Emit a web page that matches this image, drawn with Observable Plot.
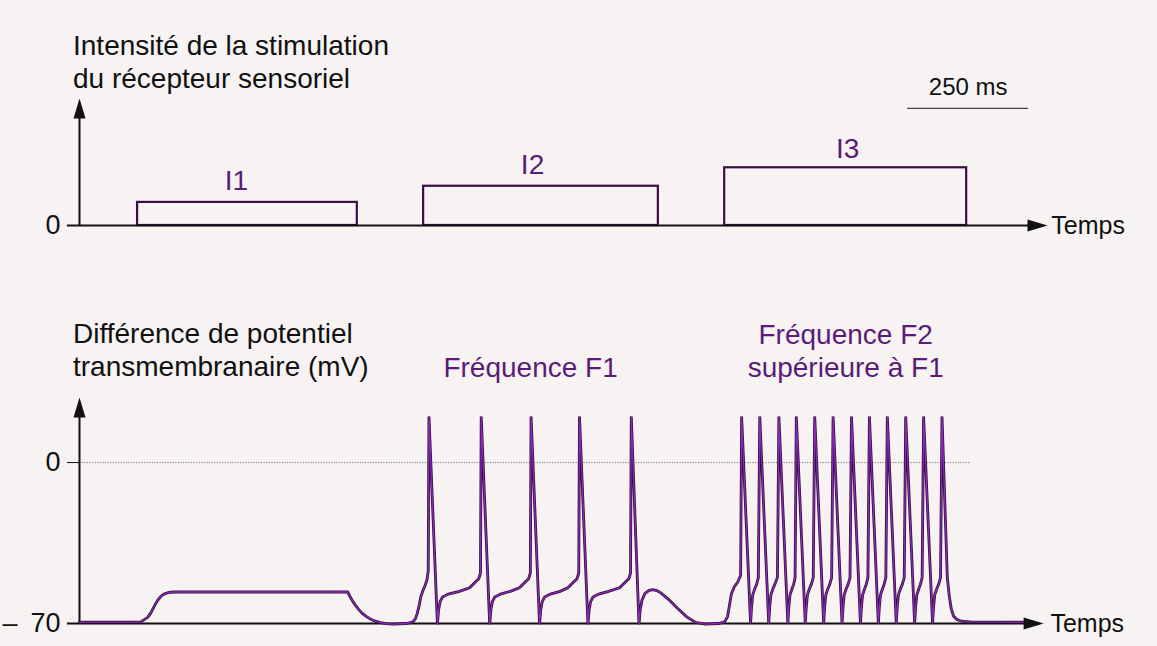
<!DOCTYPE html>
<html><head><meta charset="utf-8">
<script src="https://cdn.jsdelivr.net/npm/d3@7"></script>
<script src="https://cdn.jsdelivr.net/npm/@observablehq/plot@0.6"></script>
<style>
body{margin:0;background:#f6f3f2;}
#wrap{position:relative;width:1157px;height:646px;overflow:hidden;font-family:"Liberation Sans",Arial,sans-serif;color:#111;}
.title{position:absolute;left:73px;font-size:28px;line-height:33.5px;white-space:nowrap;}
.panel{position:absolute;left:0;}
</style></head><body>
<div id="wrap">
 <div class="panel" id="top" style="top:0"></div>
 <div class="panel" id="bottom" style="top:300px"></div>
 <div class="title" style="top:28.6px">Intensité de la stimulation<br>du récepteur sensoriel</div>
 <div class="title" style="top:316.6px">Différence de potentiel<br>transmembranaire (mV)</div>
</div>
<script>
// ---- data ----
const pulseNames = ["I1", "I2", "I3"];
const pulseStart = [120, 711, 1333];      // ms
const pulseEnd = [574, 1196, 1833];       // ms
const pulseIntensity = [1.0, 1.7, 2.5];   // arbitrary units

const traceTime = [
  0,126,141,147,152,157,162,167,173,180,188,198,
  554,557,560,565,570,577,585,593,601,611,622,634,647,674,688,694,698,702,705,709,714,718,720.5,
  722,739.5,742,745,750,762,785,806,818,825,828.5,
  830,847.5,850,853,858,870,890,909,921,928,931.5,
  933,950.5,953,956,961,973,993,1009,1021,1028,1031.5,
  1033,1050.5,1053,1056,1061,1073,1093,1116,1128,1135,1138.5,
  1140,1156,1158.5,1162,1168,1176,1184,1193,1203,1217,1236,1254,1273,1293,1320,1333,1339,1343,1347,1353,1360,1366,
  1368,1386.5,1388.5,1391,1395,1399,1402.5,
  1405.5,1424,1426,1428.5,1432.5,1436.5,1442,
  1445,1463.5,1465.5,1468,1472,1475.5,1478.5,
  1481,1499.5,1501.5,1504,1508,1512,1516,
  1519,1537.5,1539.5,1542,1546,1550,1554,
  1557,1575.5,1577.5,1580,1584,1588,1592,
  1595,1613.5,1615.5,1618,1622,1625.5,1629,
  1632,1650.5,1652.5,1655,1659,1662.5,1666,
  1669,1687.5,1689.5,1692,1696,1700,1704,
  1707,1725.5,1727.5,1730,1734,1737.5,1741,
  1744,1762.5,1764.5,1767,1771,1775,1779,
  1782,1793,1797,1801,1806,1813,1822,1840,1950
];
const traceMv = [
  -69.4,-69.4,-67.3,-65.5,-63.5,-61.5,-59.8,-58.5,-57.4,-56.8,-56.4,-56.3,
  -56.3,-57.5,-58.7,-60.5,-62,-64,-65.7,-67,-68,-69,-69.6,-70.1,-70.3,-70,-69.4,-68,-65.5,-62,-58.5,-56,-53.5,-51,-47,
  20,-70.3,-64,-60.5,-58.5,-57.2,-56,-54.5,-52,-50.5,-48,
  20,-70.3,-64,-60.5,-58.5,-57.2,-56,-54.5,-52,-50.5,-48,
  20,-70.3,-64,-60.5,-58.5,-57.2,-56,-54.5,-52,-50.5,-48,
  20,-70.3,-64,-60.5,-58.5,-57.2,-56,-54.5,-52,-50.5,-48,
  20,-70.3,-64,-60,-57,-55.7,-55.3,-55.7,-57,-59.5,-63.5,-67,-69.5,-70.3,-70,-69.3,-67,-62,-57,-54,-52,-49,
  20,-70,-63,-57.5,-55,-53,-50,
  20,-70,-63,-57.5,-55,-53,-50,
  20,-70,-63,-57.5,-55,-53,-50,
  20,-70,-63,-57.5,-55,-53,-50,
  20,-70,-63,-57.5,-55,-53,-50,
  20,-70,-63,-57.5,-55,-53,-50,
  20,-70,-63,-57.5,-55,-53,-50,
  20,-70,-63,-57.5,-55,-53,-50,
  20,-70,-63,-57.5,-55,-53,-50,
  20,-70,-63,-57.5,-55,-53,-50,
  20,-70,-63,-57.5,-55,-53,-50,
  20,-50,-58,-63.5,-66.8,-68.3,-69,-69.3,-69.4
];

const yTicksTop = [0];
const yTicksBottom = [0, -70];
const tickLabelsBottom = ["0", "–\u2009 70"];
const scaleBarMs = 250;
const scaleBarLabel = "250 ms";
const timeLabel = "Temps";
const freqLabels = ["Fréquence F1", "Fréquence F2", "supérieure à F1"];

// ---- annotation placement (data coordinates) ----
const pulseLabelPos = [{t: 324, v: 1.52}, {t: 936, v: 2.25}, {t: 1587, v: 2.94}];
const freqLabelPos = [{t: 932, v: 37}, {t: 1583, v: 51.7}, {t: 1583, v: 37}];

const pulses = pulseNames.map((n, i) => ({name: n, start: pulseStart[i], end: pulseEnd[i], level: pulseIntensity[i]}));
const pulseLabels = pulseNames.map((n, i) => ({text: n, ...pulseLabelPos[i]}));
const trace = traceTime.map((t, i) => ({t, v: traceMv[i]}));
const freqAnn = freqLabels.map((s, i) => ({text: s, ...freqLabelPos[i]}));

const ink = "#111";
const purpleText = "#5a1c78";
const arrowUp = {draw(ctx) { ctx.moveTo(0, 0); ctx.lineTo(6, 20); ctx.lineTo(-6, 20); ctx.closePath(); }};
const arrowRight = {draw(ctx) { ctx.moveTo(0, 0); ctx.lineTo(-20, -6); ctx.lineTo(-20, 6); ctx.closePath(); }};
const baseStyle = {background: "transparent", fontFamily: "Liberation Sans, Arial, sans-serif", fontSize: "27px", color: ink, overflow: "visible"};
const xDomain = [0, 2000];

const topPlot = Plot.plot({
  width: 1157, height: 300, marginLeft: 79, marginRight: 110, marginTop: 98, marginBottom: 75,
  style: baseStyle,
  x: {domain: xDomain, axis: null},
  y: {domain: [0, 5.5], ticks: yTicksTop, tickSize: 12, tickPadding: 7, label: null, tickFormat: d => String(d)},
  marks: [
    Plot.rect(pulses, {x1: "start", x2: "end", y1: 0, y2: "level", fill: "none", stroke: "#3a0f48", strokeWidth: 2.2}),
    Plot.ruleY([0], {x1: -25, x2: 1990, stroke: ink, strokeWidth: 2}),
    Plot.ruleX([0], {y1: 0, y2: 5.2, stroke: ink, strokeWidth: 2}),
    Plot.dot([{t: 0, v: 5.5}], {x: "t", y: "v", symbol: arrowUp, r: 5, fill: ink}),
    Plot.dot([{t: 2000, v: 0}], {x: "t", y: "v", symbol: arrowRight, r: 5, fill: ink}),
    Plot.text([timeLabel], {x: 2008, y: 0, text: d => d, textAnchor: "start", lineAnchor: "middle", fontSize: 25, fill: ink}),
    Plot.text(pulseLabels, {x: "t", y: "v", text: "text", textAnchor: "middle", lineAnchor: "bottom", fontSize: 28, fill: purpleText}),
    Plot.ruleY([5.07], {x1: 1711, x2: 1711 + scaleBarMs, stroke: "#444", strokeWidth: 1.3}),
    Plot.text([scaleBarLabel], {x: 1711 + scaleBarMs / 2, y: 5.63, text: d => d, textAnchor: "middle", lineAnchor: "bottom", fontSize: 24, fill: ink})
  ]
});
document.getElementById("top").append(topPlot);

const bottomPlot = Plot.plot({
  width: 1157, height: 346, marginLeft: 79, marginRight: 110, marginTop: 97, marginBottom: 23,
  style: baseStyle,
  x: {domain: xDomain, axis: null},
  y: {domain: [-70, 28.3], ticks: yTicksBottom, tickSize: 12, tickPadding: 7, label: null,
      tickFormat: d => tickLabelsBottom[yTicksBottom.indexOf(d)]},
  marks: [
    Plot.ruleY([0], {x1: 0, x2: 1841, stroke: "#777", strokeWidth: 1, strokeDasharray: "1.2,1.4"}),
    Plot.ruleY([-70], {x1: -25, x2: 1985, stroke: ink, strokeWidth: 2}),
    Plot.ruleX([0], {y1: -70, y2: 26, stroke: ink, strokeWidth: 2}),
    Plot.dot([{t: 0, v: 28.3}], {x: "t", y: "v", symbol: arrowUp, r: 5, fill: ink}),
    Plot.dot([{t: 1992, v: -70}], {x: "t", y: "v", symbol: arrowRight, r: 5, fill: ink}),
    Plot.line(trace, {x: "t", y: "v", stroke: "#2e0d38", strokeWidth: 2.8, strokeLinejoin: "miter", strokeMiterlimit: 3}),
    Plot.line(trace, {x: "t", y: "v", stroke: "#8a2ab8", strokeWidth: 1.3, strokeLinejoin: "miter", strokeMiterlimit: 3}),
    Plot.text([timeLabel], {x: 2006, y: -70, text: d => d, textAnchor: "start", lineAnchor: "middle", fontSize: 25, fill: ink}),
    Plot.text(freqAnn, {x: "t", y: "v", text: "text", textAnchor: "middle", lineAnchor: "bottom", fontSize: 28, fill: purpleText})
  ]
});
document.getElementById("bottom").append(bottomPlot);
</script>
</body></html>
